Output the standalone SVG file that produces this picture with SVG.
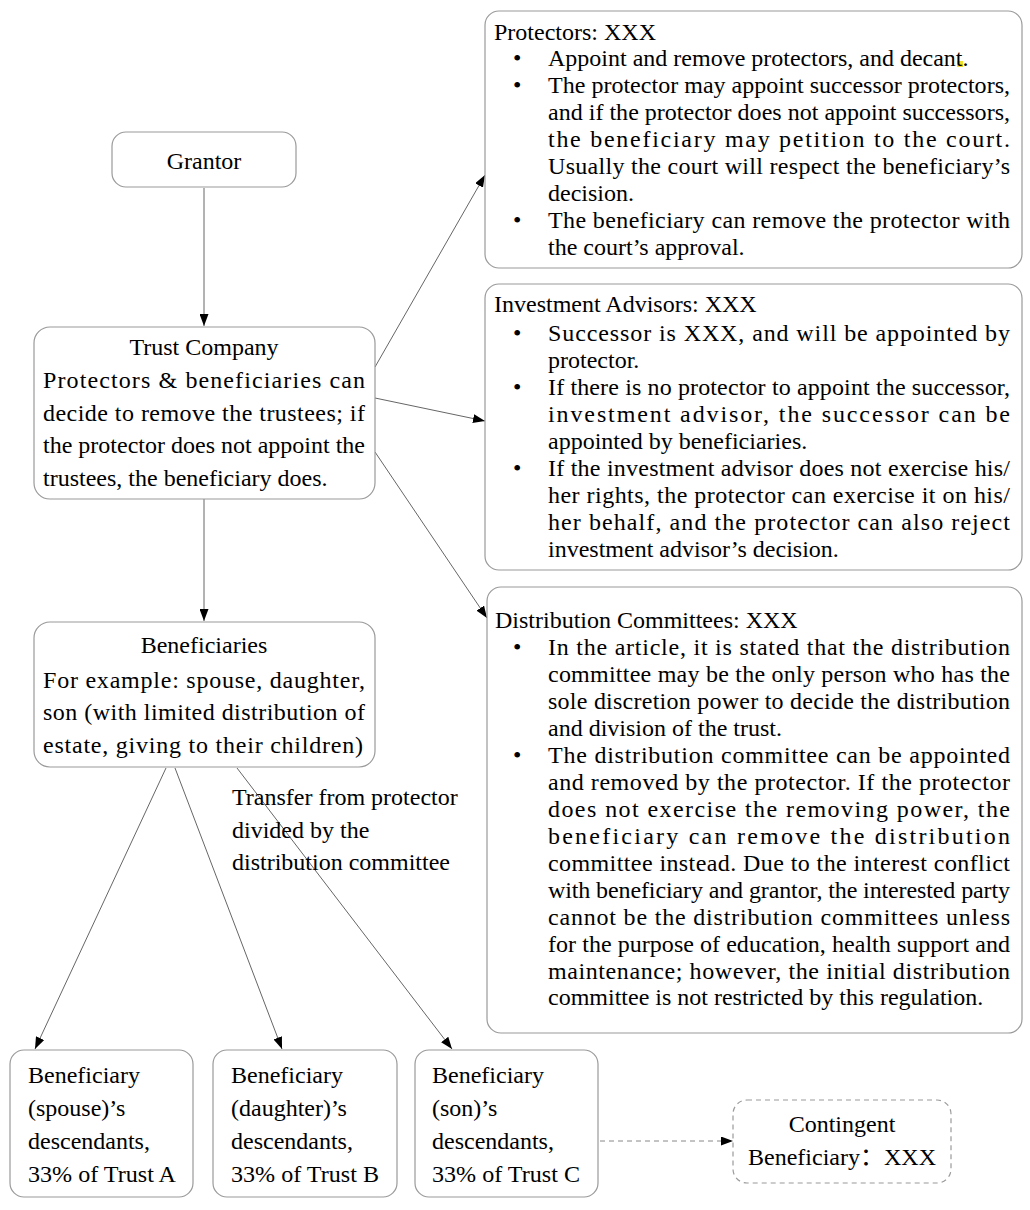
<svg xmlns="http://www.w3.org/2000/svg" width="1030" height="1210" viewBox="0 0 1030 1210" font-family="'Liberation Serif', serif" font-size="24">
<style>
text{fill:#000}
.box{fill:#fff;stroke:#9a9a9a;stroke-width:1.2}
.dash{fill:#fff;stroke:#9a9a9a;stroke-width:1.2;stroke-dasharray:5 4}
.c{text-anchor:middle}
.edge{fill:none;stroke:#666;stroke-width:1}
.edash{fill:none;stroke:#888;stroke-width:1;stroke-dasharray:5 4}
</style>
<defs>
<marker id="ah" viewBox="0 0 12 9" markerWidth="12" markerHeight="9" refX="12" refY="4.5" orient="auto" markerUnits="userSpaceOnUse">
<path d="M0,0 L12,4.5 L0,9 z" fill="#000"/>
</marker>
</defs>
<rect width="1030" height="1210" fill="#fff"/>

<g id="connectors">
<line class="edge" x1="204" y1="188" x2="204" y2="326" marker-end="url(#ah)"/>
<line class="edge" x1="375" y1="367" x2="485" y2="175" marker-end="url(#ah)"/>
<line class="edge" x1="375" y1="398" x2="485" y2="421" marker-end="url(#ah)"/>
<line class="edge" x1="375" y1="452" x2="487" y2="618" marker-end="url(#ah)"/>
<line class="edge" x1="204" y1="499" x2="204" y2="621" marker-end="url(#ah)"/>
<line class="edge" x1="166" y1="768" x2="35" y2="1049" marker-end="url(#ah)"/>
<line class="edge" x1="175" y1="768" x2="282" y2="1049" marker-end="url(#ah)"/>
<line class="edge" x1="237" y1="768" x2="452" y2="1049" marker-end="url(#ah)"/>
<line class="edash" x1="600" y1="1141" x2="733" y2="1141" marker-end="url(#ah)"/>
<g id="edge-label">
<text x="232" y="805">Transfer from protector</text>
<text x="232" y="838">divided by the</text>
<text x="232" y="870">distribution committee</text>
</g>
</g>

<g id="grantor">
<rect class="box" x="112" y="132" width="184" height="55" rx="14"/>
<text class="c" x="204" y="169">Grantor</text>
</g>

<g id="trust-company">
<rect class="box" x="34" y="327" width="341" height="172" rx="16"/>
<text class="c" x="204" y="355">Trust Company</text>
<text x="43" y="388" textLength="322" lengthAdjust="spacing">Protectors &amp; beneficiaries can</text>
<text x="43" y="421" textLength="322" lengthAdjust="spacing">decide to remove the trustees; if</text>
<text x="43" y="453" textLength="322" lengthAdjust="spacing">the protector does not appoint the</text>
<text x="43" y="486">trustees, the beneficiary does.</text>
</g>

<g id="beneficiaries">
<rect class="box" x="34" y="622" width="341" height="145" rx="16"/>
<text class="c" x="204" y="653">Beneficiaries</text>
<text x="43" y="688" textLength="322" lengthAdjust="spacing">For example: spouse, daughter,</text>
<text x="43" y="720" textLength="322" lengthAdjust="spacing">son (with limited distribution of</text>
<text x="43" y="753" textLength="320" lengthAdjust="spacing">estate, giving to their children)</text>
</g>

<g id="protectors">
<rect class="box" x="485" y="11" width="537" height="257" rx="14"/>
<text x="494" y="40">Protectors: XXX</text>
<rect x="957" y="61" width="6" height="6" fill="#f2e02a"/>
<text x="513" y="66">•</text>
<text x="548" y="66">Appoint and remove protectors, and decant.</text>
<text x="513" y="93">•</text>
<text x="548" y="93" textLength="462" lengthAdjust="spacing">The protector may appoint successor protectors,</text>
<text x="548" y="120" textLength="462" lengthAdjust="spacing">and if the protector does not appoint successors,</text>
<text x="548" y="147" textLength="462" lengthAdjust="spacing">the beneficiary may petition to the court.</text>
<text x="548" y="174" textLength="462" lengthAdjust="spacing">Usually the court will respect the beneficiary’s</text>
<text x="548" y="201">decision.</text>
<text x="513" y="228">•</text>
<text x="548" y="228" textLength="462" lengthAdjust="spacing">The beneficiary can remove the protector with</text>
<text x="548" y="255">the court’s approval.</text>
</g>

<g id="investment-advisors">
<rect class="box" x="485" y="284" width="537" height="286" rx="14"/>
<text x="494" y="312">Investment Advisors: XXX</text>
<text x="513" y="341">•</text>
<text x="548" y="341" textLength="462" lengthAdjust="spacing">Successor is XXX, and will be appointed by</text>
<text x="548" y="368">protector.</text>
<text x="513" y="395">•</text>
<text x="548" y="395" textLength="462" lengthAdjust="spacing">If there is no protector to appoint the successor,</text>
<text x="548" y="422" textLength="462" lengthAdjust="spacing">investment advisor, the successor can be</text>
<text x="548" y="449">appointed by beneficiaries.</text>
<text x="513" y="476">•</text>
<text x="548" y="476" textLength="462" lengthAdjust="spacing">If the investment advisor does not exercise his/</text>
<text x="548" y="503" textLength="462" lengthAdjust="spacing">her rights, the protector can exercise it on his/</text>
<text x="548" y="530" textLength="462" lengthAdjust="spacing">her behalf, and the protector can also reject</text>
<text x="548" y="557">investment advisor’s decision.</text>
</g>

<g id="distribution-committees">
<rect class="box" x="487" y="587" width="535" height="446" rx="14"/>
<text x="495" y="628">Distribution Committees: XXX</text>
<text x="513" y="655">•</text>
<text x="548" y="655" textLength="462" lengthAdjust="spacing">In the article, it is stated that the distribution</text>
<text x="548" y="682" textLength="462" lengthAdjust="spacing">committee may be the only person who has the</text>
<text x="548" y="709" textLength="462" lengthAdjust="spacing">sole discretion power to decide the distribution</text>
<text x="548" y="736">and division of the trust.</text>
<text x="513" y="763">•</text>
<text x="548" y="763" textLength="462" lengthAdjust="spacing">The distribution committee can be appointed</text>
<text x="548" y="790" textLength="462" lengthAdjust="spacing">and removed by the protector. If the protector</text>
<text x="548" y="817" textLength="462" lengthAdjust="spacing">does not exercise the removing power, the</text>
<text x="548" y="844" textLength="462" lengthAdjust="spacing">beneficiary can remove the distribution</text>
<text x="548" y="871" textLength="462" lengthAdjust="spacing">committee instead. Due to the interest conflict</text>
<text x="548" y="898" textLength="462" lengthAdjust="spacing">with beneficiary and grantor, the interested party</text>
<text x="548" y="925" textLength="462" lengthAdjust="spacing">cannot be the distribution committees unless</text>
<text x="548" y="952" textLength="462" lengthAdjust="spacing">for the purpose of education, health support and</text>
<text x="548" y="979" textLength="462" lengthAdjust="spacing">maintenance; however, the initial distribution</text>
<text x="548" y="1005">committee is not restricted by this regulation.</text>
</g>

<g id="beneficiary-spouse">
<rect class="box" x="10" y="1050" width="183" height="147" rx="14"/>
<text x="28" y="1083">Beneficiary</text>
<text x="28" y="1116">(spouse)’s</text>
<text x="28" y="1149">descendants,</text>
<text x="28" y="1182" textLength="148" lengthAdjust="spacingAndGlyphs">33% of Trust A</text>
</g>

<g id="beneficiary-daughter">
<rect class="box" x="213" y="1050" width="184" height="147" rx="14"/>
<text x="231" y="1083">Beneficiary</text>
<text x="231" y="1116">(daughter)’s</text>
<text x="231" y="1149">descendants,</text>
<text x="231" y="1182" textLength="148" lengthAdjust="spacingAndGlyphs">33% of Trust B</text>
</g>

<g id="beneficiary-son">
<rect class="box" x="415" y="1050" width="183" height="147" rx="14"/>
<text x="432" y="1083">Beneficiary</text>
<text x="432" y="1116">(son)’s</text>
<text x="432" y="1149">descendants,</text>
<text x="432" y="1182" textLength="148" lengthAdjust="spacingAndGlyphs">33% of Trust C</text>
</g>

<g id="contingent-beneficiary">
<rect class="dash" x="733" y="1100" width="218" height="83" rx="14"/>
<text class="c" x="842" y="1132">Contingent</text>
<text class="c" x="842" y="1165" font-family="'Liberation Serif', 'Noto Sans CJK SC', serif">Beneficiary：XXX</text>
</g>
</svg>
